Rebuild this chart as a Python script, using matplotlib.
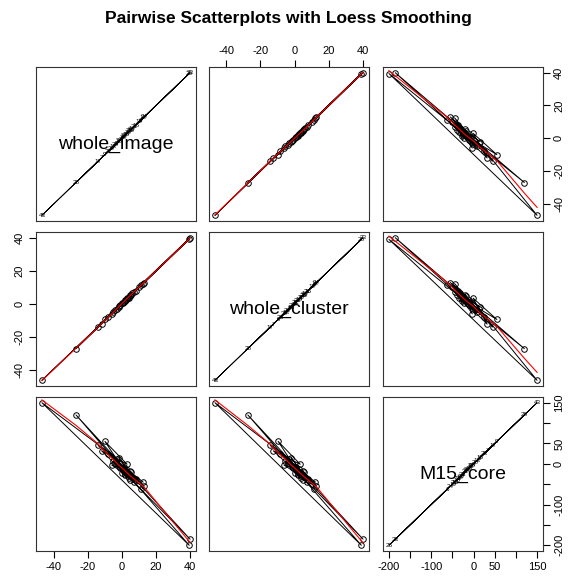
import numpy as np
import matplotlib
matplotlib.use("Agg")
import matplotlib.pyplot as plt

plt.rcParams['font.family'] = ['Liberation Sans', 'DejaVu Sans']

# point ids and the three measured variables (in data order)
ids = [1, 2, 3, 4, 5, 43, 26, 28, 33, 6, 7, 8, 9, 10, 11, 12, 13, 14, 15, 16,
       17, 18, 19, 20, 21, 22, 23, 24, 25, 27, 29, 30, 31, 32]
whole_image = [2, -1, 4, 0, -3, -47, 39.5, -27, 40, 11, -12, 3, -10, 5, 1, 12.5,
               -5, 6, -2, 8, -14, 2.5, 10, -4, 7, 0.5, -8, 13, 4.5, -1.5, 3.5,
               -6, 5.5, 1.5]
whole_cluster = [2.2, -0.8, 3.7, 0.3, -3.2, -46.5, 39, -27.3, 40, 11.5, -12.4, 3.3,
                 -9.6, 5.2, 0.7, 12.2, -5.3, 6.3, -2.1, 7.6, -14.2, 2.4, 10.3,
                 -4.1, 7.2, 0.6, -8.3, 12.8, 4.8, -1.4, 3.6, -6.2, 5.4, 1.8]
M15_core = [-25, -10, -35, -23, 13, 150, -200, 120, -185, -62, 32, -1, 55, -40,
            -7, -45, 7, -33, 15, -37, 45, -12, -50, 3, -45, -15, 25, -55, -17,
            -5, -30, -3, -20, -27]

names = ['whole_image', 'whole_cluster', 'M15_core']
data = [np.array(whole_image), np.array(whole_cluster), np.array(M15_core)]

w_ticks = [-40, -20, 0, 20, 40]
w_labels = ['-40', '-20', '0', '20', '40']
m_ticks = [-200, -150, -100, -50, 0, 50, 100, 150]
m_labels = ['-200', '', '-100', '', '0', '50', '', '150']
ticks = [(w_ticks, w_labels), (w_ticks, w_labels), (m_ticks, m_labels)]


def lowess(x, y, f=2/3, iters=3):
    o = np.argsort(x)
    x = x[o]
    y = y[o]
    n = len(x)
    r = int(np.ceil(f * n))
    yest = np.zeros(n)
    delta = np.ones(n)
    for it in range(iters + 1):
        for i in range(n):
            d = np.abs(x - x[i])
            h = np.sort(d)[r - 1]
            u = np.clip(d / max(h, 1e-12), 0, 1)
            wt = (1 - u ** 3) ** 3 * delta
            sw = wt.sum()
            xm = (wt * x).sum() / sw
            ym = (wt * y).sum() / sw
            sxx = (wt * (x - xm) ** 2).sum()
            b = (wt * (x - xm) * (y - ym)).sum() / sxx if sxx > 0 else 0
            yest[i] = ym + b * (x[i] - xm)
        res = y - yest
        s = np.median(np.abs(res))
        if s == 0:
            break
        dd = np.clip(res / (6 * s), -1, 1)
        delta = (1 - dd ** 2) ** 2
    return x, yest


def lims(v):
    lo, hi = v.min(), v.max()
    r = hi - lo
    return lo - 0.04 * r, hi + 0.04 * r


W, H = 576, 579
fig = plt.figure(figsize=(W / 100, H / 100), dpi=100)
col_x = [36, 209, 383]
row_y = [67, 232, 397]
pw, ph = 160, 154

fig.text(288 / W, 1 - 18 / H, 'Pairwise Scatterplots with Loess Smoothing',
         ha='center', va='center', fontsize=12.5, fontweight='bold')

for i in range(3):
    for j in range(3):
        ax = fig.add_axes([col_x[j] / W, 1 - (row_y[i] + ph) / H, pw / W, ph / H])
        x = data[j]
        y = data[i]
        ax.set_xlim(lims(x))
        ax.set_ylim(lims(y))
        for s in ax.spines.values():
            s.set_linewidth(0.8)
            s.set_color('#333333')
        ax.set_xticks([])
        ax.set_yticks([])
        if i == j:
            ax.plot(x, y, color='black', lw=0.6)
            for k, v in enumerate(x):
                ax.text(v, v, str(ids[k]), fontsize=4.5, ha='center',
                        va='center')
            ax.text(0.5, 0.5, names[i], transform=ax.transAxes, ha='center',
                    va='center', fontsize=14)
        else:
            ax.plot(x, y, color='black', lw=0.7)
            ax.plot(x, y, 'o', mfc='none', mec='black', ms=4, mew=0.7)
            sx, sy = lowess(x, y)
            ax.plot(sx, sy, color='red', lw=0.8)

        tk = dict(direction='out', length=5, width=0.8, labelsize=8, pad=3)
        if i == 0 and j % 2 == 1:
            ax.xaxis.tick_top()
            ax.set_xticks(ticks[j][0])
            ax.set_xticklabels(ticks[j][1])
            ax.tick_params(axis='x', **tk)
        if i == 2 and j % 2 == 0:
            ax.set_xticks(ticks[j][0])
            ax.set_xticklabels(ticks[j][1])
            ax.tick_params(axis='x', **tk)
        if j == 0 and i % 2 == 1:
            ax.set_yticks(ticks[i][0])
            ax.set_yticklabels(ticks[i][1], rotation=90, va='center')
            ax.tick_params(axis='y', **tk)
        if j == 2 and i % 2 == 0:
            ax.yaxis.tick_right()
            ax.set_yticks(ticks[i][0])
            ax.set_yticklabels(ticks[i][1], rotation=90, va='center')
            ax.tick_params(axis='y', **tk)

fig.savefig('out.png', dpi=100)
